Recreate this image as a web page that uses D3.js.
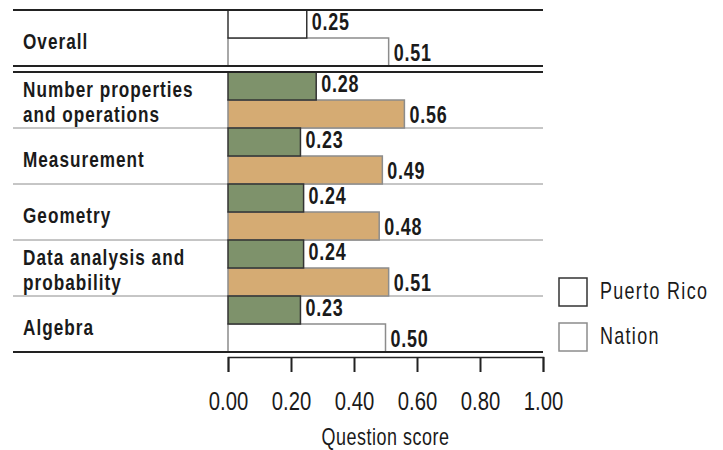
<!DOCTYPE html>
<html lang="en">
<head>
<meta charset="UTF-8" />
<title>Question score</title>
<script src="https://cdn.jsdelivr.net/npm/d3@7"></script>
<style>
    body { margin: 0; background: #fff; }
    svg { display: block; }
    text { font-family: "Liberation Sans", Arial, sans-serif; fill: #1a1a1a; }
</style>
</head>
<body>
<script>
    const categories = ['Overall', 'Number properties and operations', 'Measurement', 'Geometry', 'Data analysis and probability', 'Algebra'];
    const categoryLines = [['Overall'], ['Number properties', 'and operations'], ['Measurement'], ['Geometry'], ['Data analysis and', 'probability'], ['Algebra']];
    const series = ['Puerto Rico', 'Nation'];
    const puertoRico = [0.25, 0.28, 0.23, 0.24, 0.24, 0.23];
    const nation = [0.51, 0.56, 0.49, 0.48, 0.51, 0.50];
    const tickValues = [0, 0.2, 0.4, 0.6, 0.8, 1.0];
    const xTitle = 'Question score';

    const width = 723, height = 450;
    const left = 13, plotLeft = 228, plotRight = 543;
    const topY = 10, gap = 6, rowH = 56;

    const green = '#7e926b', tan = '#d5ab73';
    const dark = '#222', grey = '#8c8c8c';

    // no condensed face installed, so squeeze Liberation Sans horizontally
    const sx = 0.78;
    const squeeze = (x, y) => `translate(${x},${y}) scale(${sx},1)`;

    const svg = d3.select('body').append('svg')
        .attr('width', width)
        .attr('height', height);

    const x = d3.scaleLinear().domain([0, 1]).range([plotLeft, plotRight]);

    const y = d3.scaleBand()
        .domain(categories)
        .range([topY, topY + rowH * categories.length]);

    const y1 = d3.scaleBand().domain(series).range([0, y.bandwidth()]);

    // overall row sits above the double rule, the rest are pushed down by the gap
    const rowTop = (d, i) => y(d) + (i > 0 ? gap : 0);
    const bottom = rowTop(categories[categories.length - 1], categories.length - 1) + y.bandwidth();

    // row separators
    const seps = categories.slice(2).map((d, i) => rowTop(d, i + 2));
    svg.append('g').selectAll('line')
        .data(seps)
        .join('line')
        .attr('x1', left).attr('x2', plotRight)
        .attr('y1', d => d).attr('y2', d => d)
        .attr('stroke', grey).attr('stroke-width', 1);

    const rows = categories.map((d, i) => ({
        cat: d,
        lines: categoryLines[i],
        top: rowTop(d, i),
        values: [puertoRico[i], nation[i]],
        i
    }));

    const row = svg.append('g').selectAll('g')
        .data(rows)
        .join('g')
        .attr('transform', d => `translate(0,${d.top})`);

    const barFill = (d, s) => {
        if (d.i === 0) return '#fff';
        if (s === 'Nation') return d.cat === 'Algebra' ? '#fff' : tan;
        return green;
    };

    // nation first so the darker PR border sits on top
    [1, 0].forEach(k => {
        const s = series[k];
        row.append('rect')
            .attr('x', x(0))
            .attr('y', y1(s))
            .attr('width', d => x(d.values[k]) - x(0))
            .attr('height', y1.bandwidth())
            .attr('fill', d => barFill(d, s))
            .attr('stroke', k === 0 ? '#333' : grey)
            .attr('stroke-width', 1.5);
    });

    [0, 1].forEach(k => {
        const s = series[k];
        row.append('text')
            .attr('transform', d => squeeze(x(d.values[k]) + 5, y1(s) + (k === 0 ? 20 : 23)))
            .attr('font-size', 23)
            .attr('font-weight', 'bold')
            .attr('letter-spacing', 1)
            .text(d => d.values[k].toFixed(2));
    });

    // category labels
    row.append('text')
        .attr('transform', squeeze(23, 0))
        .attr('font-size', 22)
        .attr('font-weight', 'bold')
        .attr('letter-spacing', 1.3)
        .each(function (d) {
            const n = d.lines.length;
            const base = y.bandwidth() / 2 + (n === 1 ? 11 : -3);
            d3.select(this).selectAll('tspan')
                .data(d.lines)
                .join('tspan')
                .attr('x', 0)
                .attr('y', (t, j) => base + j * 25)
                .text(t => t);
        });

    // heavy rules
    const rules = [topY, rowTop(categories[1], 1) - gap, rowTop(categories[1], 1), bottom];
    svg.append('g').selectAll('line')
        .data(rules)
        .join('line')
        .attr('x1', left).attr('x2', plotRight)
        .attr('y1', d => d).attr('y2', d => d)
        .attr('stroke', dark).attr('stroke-width', 2);

    // x axis
    const axis = svg.append('g')
        .attr('transform', `translate(0,${bottom + 5})`)
        .call(d3.axisBottom(x)
            .tickValues(tickValues)
            .tickFormat(d3.format('.2f'))
            .tickSize(15)
            .tickPadding(20));
    axis.attr('font-family', null);
    axis.select('.domain').attr('stroke', dark).attr('stroke-width', 1.5);
    axis.selectAll('.tick line').attr('stroke', dark).attr('stroke-width', 2);
    axis.selectAll('.tick text')
        .attr('font-size', 26)
        .attr('fill', '#1a1a1a')
        .attr('transform', `scale(${sx},1)`);

    svg.append('text')
        .attr('transform', squeeze((plotLeft + plotRight) / 2, 445))
        .attr('text-anchor', 'middle')
        .attr('font-size', 23)
        .attr('letter-spacing', 0.7)
        .text(xTitle);

    // legend (boxes left unshaded as in the source)
    const legend = svg.append('g').selectAll('g')
        .data(series)
        .join('g')
        .attr('transform', (d, i) => `translate(559,${278 + i * 45})`);
    legend.append('rect')
        .attr('width', 28).attr('height', 28)
        .attr('fill', '#fff')
        .attr('stroke', (d, i) => i === 0 ? '#333' : grey)
        .attr('stroke-width', 1.5);
    legend.append('text')
        .attr('transform', squeeze(41, 21))
        .attr('font-size', 23)
        .attr('letter-spacing', 1.7)
        .text(d => d);
</script>
</body>
</html>
